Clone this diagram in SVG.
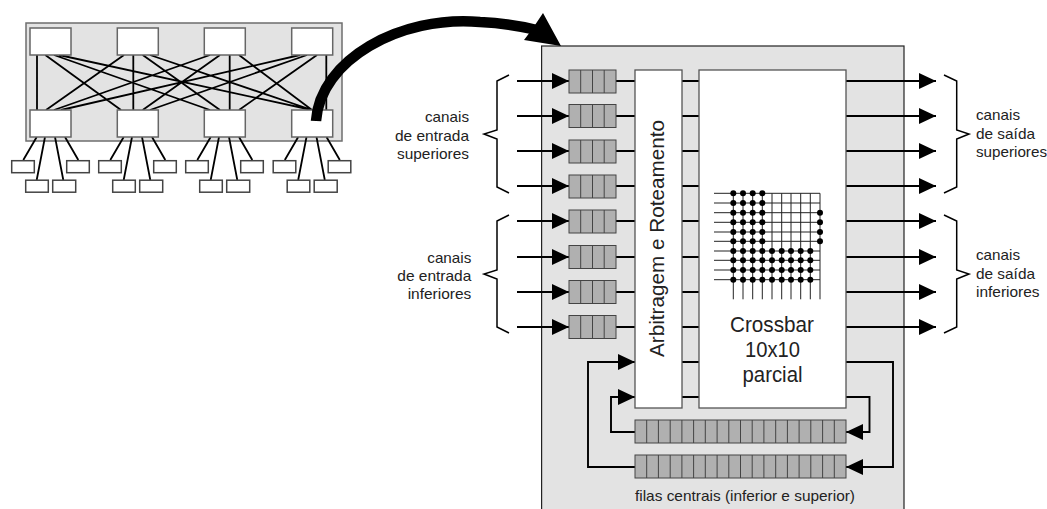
<svg xmlns="http://www.w3.org/2000/svg" width="1047" height="509" viewBox="0 0 1047 509">
<style>
text{font-family:"Liberation Sans",Arial,sans-serif;fill:#222}
.lbl{font-size:14.5px}
.big{font-size:21.500px}
.panel{fill:#e3e3e3;stroke:#6e6e6e;stroke-width:1.5}
.main{fill:#e3e3e3;stroke:#222;stroke-width:1.2}
.sw{fill:#fff;stroke:#666;stroke-width:1.5}
.leaf{fill:#fff;stroke:#444;stroke-width:1.5}
.cell{fill:#b0b0b0;stroke:#444;stroke-width:1}
.box{fill:#fff;stroke:#555;stroke-width:1.3}
.w{fill:none;stroke:#000;stroke-width:1.8}
.b{fill:none;stroke:#000;stroke-width:1.9}
.g{stroke:#222;stroke-width:1;fill:none}
.br{fill:none;stroke:#000;stroke-width:1.5}
</style>
<defs>
<marker id="ah" markerUnits="userSpaceOnUse" markerWidth="17" markerHeight="16" refX="17" refY="8" orient="auto"><path d="M0 0L17 8L0 16Z" fill="#000"/></marker>
<g id="q4"><rect class="cell" x="0" y="0" width="47" height="23"/><path class="cell" d="M11.7 0V23M23.5 0V23M35.2 0V23"/></g>
<g id="q18"><rect class="cell" x="0" y="0" width="211" height="23"/><path class="cell" d="M11.7 0V23M23.4 0V23M35.2 0V23M46.9 0V23M58.6 0V23M70.3 0V23M82.1 0V23M93.8 0V23M105.5 0V23M117.2 0V23M128.9 0V23M140.7 0V23M152.4 0V23M164.1 0V23M175.8 0V23M187.6 0V23M199.3 0V23"/></g>
<g id="leafs">
<rect class="leaf" x="11.700" y="160.700" width="22.600" height="12"/><rect class="leaf" x="66.700" y="160.700" width="22.600" height="12"/><rect class="leaf" x="25.700" y="180.200" width="22.600" height="12"/><rect class="leaf" x="52.700" y="180.200" width="23" height="12"/>
</g>
<path id="wires" class="w" d="M36.700 137L23.300 160M45 137L36.700 180M55 137L63.300 180M65 137L78.300 160"/>
<g id="col4" fill="#000"><circle cy="251" r="3"/><circle cy="260.300" r="3"/><circle cy="270" r="3"/><circle cy="279.700" r="3"/></g>
<g id="colm" fill="#000"><circle cy="212.700" r="3"/><circle cy="222.300" r="3"/><circle cy="232" r="3"/><circle cy="241.300" r="3"/></g>
<g id="col10" fill="#000"><circle cy="193.300" r="3"/><circle cy="203" r="3"/><use href="#colm"/><use href="#col4"/></g>
</defs>

<g id="network-panel"><rect class="panel" x="26" y="23" width="316" height="118"/></g>
<g id="router-panel"><rect class="main" x="541.600" y="46" width="362.400" height="480"/></g>

<g id="connectors">
<path class="w" d="M37 55V110M133.300 55V110M229.700 55V110M326.300 55V110
M45.300 55L121 110M54 55L210 110M59 55L312 110
M124 55L46 110M142.700 55L220 110M150 55L312 110
M210 55L54 110M220 55L142.700 110M239 55L312 110
M300 55L61 110M307 55L150 110M317 55L239 110"/>
<use href="#wires"/><use href="#wires" x="87"/><use href="#wires" x="174"/><use href="#wires" x="261.500"/>
<g class="b">
<path d="M517 81H569" marker-end="url(#ah)"/><path d="M517 116H569" marker-end="url(#ah)"/><path d="M517 151H569" marker-end="url(#ah)"/><path d="M517 186H569" marker-end="url(#ah)"/><path d="M517 221H569" marker-end="url(#ah)"/><path d="M517 257H569" marker-end="url(#ah)"/><path d="M517 292H569" marker-end="url(#ah)"/><path d="M517 327H569" marker-end="url(#ah)"/>
<path d="M846 81H936" marker-end="url(#ah)"/><path d="M846 116H936" marker-end="url(#ah)"/><path d="M846 151H936" marker-end="url(#ah)"/><path d="M846 186H936" marker-end="url(#ah)"/><path d="M846 221H936" marker-end="url(#ah)"/><path d="M846 257H936" marker-end="url(#ah)"/><path d="M846 292H936" marker-end="url(#ah)"/><path d="M846 327H936" marker-end="url(#ah)"/>
<path d="M616 81H635M616 116H635M616 151H635M616 186H635M616 221H635M616 257H635M616 292H635M616 327H635"/>
<path d="M682 81H699M682 116H699M682 151H699M682 186H699M682 221H699M682 257H699M682 292H699M682 327H699M682 362H699M682 397H699"/>
<path d="M846 397H869.500V432H846" marker-end="url(#ah)"/>
<path d="M846 362H893V467H846" marker-end="url(#ah)"/>
<path d="M635 432H611V397H635" marker-end="url(#ah)"/>
<path d="M635 467H588V362H635" marker-end="url(#ah)"/>
</g>
</g>

<g id="sw-top-1"><rect class="sw" x="30" y="28" width="41" height="27"/></g>
<g id="sw-top-2"><rect class="sw" x="117.300" y="28" width="41" height="27"/></g>
<g id="sw-top-3"><rect class="sw" x="204.300" y="28" width="41" height="27"/></g>
<g id="sw-top-4"><rect class="sw" x="291.700" y="28" width="41" height="27"/></g>
<g id="sw-bot-1"><rect class="sw" x="30" y="110" width="41" height="27"/></g>
<g id="sw-bot-2"><rect class="sw" x="117.300" y="110" width="41" height="27"/></g>
<g id="sw-bot-3"><rect class="sw" x="204.300" y="110" width="41" height="27"/></g>
<g id="sw-bot-4"><rect class="sw" x="291.700" y="110" width="41" height="27"/></g>
<g id="leaves-1"><use href="#leafs"/></g>
<g id="leaves-2"><use href="#leafs" x="87"/></g>
<g id="leaves-3"><use href="#leafs" x="174"/></g>
<g id="leaves-4"><use href="#leafs" x="261.500"/></g>

<g id="queues-in">
<use href="#q4" x="569" y="70"/><use href="#q4" x="569" y="104.500"/><use href="#q4" x="569" y="140"/><use href="#q4" x="569" y="175"/><use href="#q4" x="569" y="210"/><use href="#q4" x="569" y="245.500"/><use href="#q4" x="569" y="280.500"/><use href="#q4" x="569" y="315.500"/>
</g>
<g id="arbiter"><rect class="box" x="635" y="70" width="47" height="338"/>
<text transform="translate(664.300 238.500) rotate(-90)" text-anchor="middle" style="font-size:20.700px">Arbitragem e Roteamento</text></g>
<g id="crossbar"><rect class="box" x="699" y="70" width="147" height="338"/>
<path class="g" d="M714 193.300H820M714 203H820M714 212.700H820M714 222.300H820M714 232H820M714 241.300H820M714 251H820M714 260.300H820M714 270H820M714 279.700H820"/>
<path class="g" d="M733.300 193.300V299.300M743 193.300V299.300M752.700 193.300V299.300M762.300 193.300V299.300M772 193.300V299.300M781.700 193.300V299.300M791 193.300V299.300M800.700 193.300V299.300M810.300 193.300V299.300M820 193.300V299.300"/>
<use href="#col10" x="733.300"/><use href="#col10" x="743"/><use href="#col10" x="752.700"/><use href="#col10" x="762.300"/>
<use href="#col4" x="772"/><use href="#col4" x="781.700"/><use href="#col4" x="791"/><use href="#col4" x="800.700"/><use href="#col4" x="810.300"/>
<use href="#colm" x="820"/>
<text class="big" x="730" y="332" textLength="84" lengthAdjust="spacingAndGlyphs">Crossbar</text>
<text class="big" x="745" y="357" textLength="55" lengthAdjust="spacingAndGlyphs">10x10</text>
<text class="big" x="742.500" y="382" textLength="60" lengthAdjust="spacingAndGlyphs">parcial</text></g>
<g id="central-queues"><use href="#q18" x="635" y="420"/><use href="#q18" x="635" y="455"/>
<text class="lbl" x="635" y="500.500" textLength="220" lengthAdjust="spacingAndGlyphs">filas centrais (inferior e superior)</text></g>

<g id="brace-in-sup"><path class="br" d="M509 75L497 81V130L484 134L497 139V187L509 193"/>
<text class="lbl" x="425" y="121.700" textLength="44" lengthAdjust="spacingAndGlyphs">canais</text>
<text class="lbl" x="395" y="140.700" textLength="74" lengthAdjust="spacingAndGlyphs">de entrada</text>
<text class="lbl" x="397" y="159.300" textLength="72" lengthAdjust="spacingAndGlyphs">superiores</text></g>
<g id="brace-in-inf"><path class="br" d="M509 215L497 221V270L484 274L497 279V327L509 333"/>
<text class="lbl" x="427.300" y="262.700" textLength="44" lengthAdjust="spacingAndGlyphs">canais</text>
<text class="lbl" x="397.300" y="281" textLength="74" lengthAdjust="spacingAndGlyphs">de entrada</text>
<text class="lbl" x="407.700" y="299.300" textLength="63.600" lengthAdjust="spacingAndGlyphs">inferiores</text></g>
<g id="brace-out-sup"><path class="br" d="M944 75L956.700 81V130L969 134L956.700 139V187L944 193"/>
<text class="lbl" x="976" y="120" textLength="44" lengthAdjust="spacingAndGlyphs">canais</text>
<text class="lbl" x="976" y="139" textLength="59" lengthAdjust="spacingAndGlyphs">de saída</text>
<text class="lbl" x="976" y="157.300" textLength="71" lengthAdjust="spacingAndGlyphs">superiores</text></g>
<g id="brace-out-inf"><path class="br" d="M944 215L956.700 221V270L969 274L956.700 279V327L944 333"/>
<text class="lbl" x="976" y="260" textLength="44" lengthAdjust="spacingAndGlyphs">canais</text>
<text class="lbl" x="976" y="279" textLength="59" lengthAdjust="spacingAndGlyphs">de saída</text>
<text class="lbl" x="976" y="297.300" textLength="63.600" lengthAdjust="spacingAndGlyphs">inferiores</text></g>

<g id="big-arrow">
<path d="M316 121C320 60 400 15 480 22C500 23 520 26 537 30" fill="none" stroke="#000" stroke-width="10.500"/>
<path d="M561 46L543 13L533 28L524 40Z" fill="#000"/>
</g>
</svg>
